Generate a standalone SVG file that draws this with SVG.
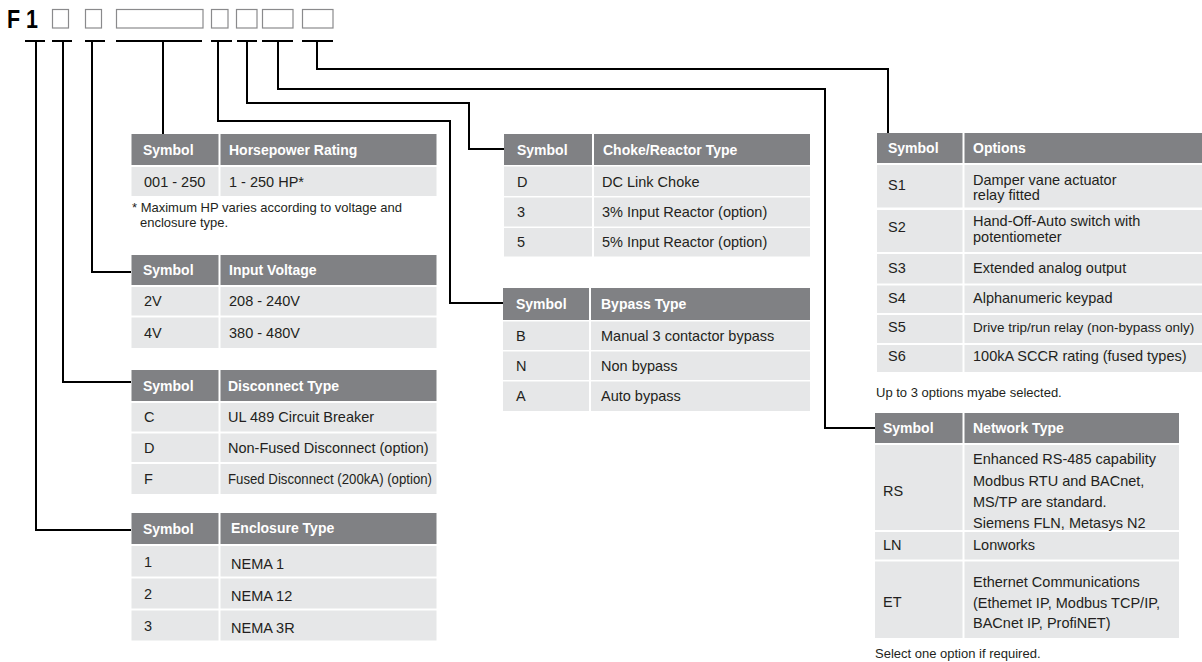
<svg xmlns="http://www.w3.org/2000/svg" width="1202" height="662" viewBox="0 0 1202 662">
<style>
.hd{fill:#808184}
.rw{fill:#e6e7e8}
.bx{fill:#fff;stroke:#8a8a8c;stroke-width:1.2}
.cn{fill:none;stroke:#000;stroke-width:2}
text{font-family:"Liberation Sans",Arial,sans-serif}
.ht{fill:#fff;font-weight:bold;font-size:14px}
.tx{fill:#231f20;font-size:14.5px}
.fn{fill:#231f20;font-size:13px}
.big{fill:#000;font-weight:bold;font-size:25px}
</style>
<rect width="1202" height="662" fill="#fff"/>
<g id="code">
<text class="big" x="7" y="28" textLength="31" lengthAdjust="spacingAndGlyphs">F 1</text>
<rect class="bx" x="52.5" y="9.5" width="16" height="18.5"/>
<rect class="bx" x="85.5" y="9.5" width="16" height="18.5"/>
<rect class="bx" x="116.5" y="9.5" width="86.5" height="18.5"/>
<rect class="bx" x="211.5" y="9.5" width="16.5" height="18.5"/>
<rect class="bx" x="236.5" y="9.5" width="20.5" height="18.5"/>
<rect class="bx" x="262.5" y="9.5" width="30.5" height="18.5"/>
<rect class="bx" x="302.5" y="9.5" width="30.5" height="18.5"/>
</g>
<g id="connectors" class="cn">
<path d="M25 41H45M52 41H72M85 41H105M116 41H202M211 41H232M237 41H257M262 41H293M302 41H333"/>
<path d="M36 41V530H131"/>
<path d="M63 41V382H131"/>
<path d="M92 41V272H131"/>
<path d="M163 41V134"/>
<path d="M218 41V121H450V303H503"/>
<path d="M247 41V103H469V149H504"/>
<path d="M278 41V89H825V428H875"/>
<path d="M317 41V69H888V133"/>
</g>
<g id="horsepower">
<rect class="hd" x="131.5" y="134" width="87" height="31"/><rect class="hd" x="220.5" y="134" width="216" height="31"/>
<rect class="rw" x="131.5" y="167" width="87" height="29"/><rect class="rw" x="220.5" y="167" width="216" height="29"/>
<text class="ht" x="143" y="155">Symbol</text><text class="ht" x="229" y="155">Horsepower Rating</text>
<text class="tx" x="144" y="187">001 - 250</text><text class="tx" x="229" y="187">1 - 250 HP*</text>
<text class="fn" x="132" y="212">* Maximum HP varies according to voltage and</text>
<text class="fn" x="140" y="227">enclosure type.</text>
</g>
<g id="voltage">
<rect class="hd" x="131.5" y="255" width="87" height="30"/><rect class="hd" x="220.5" y="255" width="216" height="30"/>
<rect class="rw" x="131.5" y="287" width="87" height="28.5"/><rect class="rw" x="220.5" y="287" width="216" height="28.5"/>
<rect class="rw" x="131.5" y="317.5" width="87" height="30.5"/><rect class="rw" x="220.5" y="317.5" width="216" height="30.5"/>
<text class="ht" x="143" y="275">Symbol</text><text class="ht" x="229" y="275">Input Voltage</text>
<text class="tx" x="144" y="306">2V</text><text class="tx" x="229" y="306">208 - 240V</text>
<text class="tx" x="144" y="338">4V</text><text class="tx" x="229" y="338">380 - 480V</text>
</g>
<g id="disconnect">
<rect class="hd" x="131.5" y="370" width="87" height="31"/><rect class="hd" x="220.5" y="370" width="216" height="31"/>
<rect class="rw" x="131.5" y="403" width="87" height="28.5"/><rect class="rw" x="220.5" y="403" width="216" height="28.5"/>
<rect class="rw" x="131.5" y="433.5" width="87" height="28.5"/><rect class="rw" x="220.5" y="433.5" width="216" height="28.5"/>
<rect class="rw" x="131.5" y="464" width="87" height="30"/><rect class="rw" x="220.5" y="464" width="216" height="30"/>
<text class="ht" x="143" y="391">Symbol</text><text class="ht" x="228" y="391">Disconnect Type</text>
<text class="tx" x="144" y="422">C</text><text class="tx" x="228" y="422">UL 489 Circuit Breaker</text>
<text class="tx" x="144" y="453">D</text><text class="tx" x="228" y="453">Non-Fused Disconnect (option)</text>
<text class="tx" x="144" y="484">F</text><text class="tx" x="228" y="484" textLength="204" lengthAdjust="spacingAndGlyphs">Fused Disconnect (200kA) (option)</text>
</g>
<g id="enclosure">
<rect class="hd" x="131.5" y="513" width="87" height="31"/><rect class="hd" x="220.5" y="513" width="216" height="31"/>
<rect class="rw" x="131.5" y="546" width="87" height="30.5"/><rect class="rw" x="220.5" y="546" width="216" height="30.5"/>
<rect class="rw" x="131.5" y="578.5" width="87" height="30"/><rect class="rw" x="220.5" y="578.5" width="216" height="30"/>
<rect class="rw" x="131.5" y="610.5" width="87" height="30"/><rect class="rw" x="220.5" y="610.5" width="216" height="30"/>
<text class="ht" x="143" y="534">Symbol</text><text class="ht" x="231" y="533">Enclosure Type</text>
<text class="tx" x="144" y="566.5">1</text><text class="tx" x="231" y="568.5">NEMA 1</text>
<text class="tx" x="144" y="598.5">2</text><text class="tx" x="231" y="600.5">NEMA 12</text>
<text class="tx" x="144" y="630.5">3</text><text class="tx" x="231" y="632.5">NEMA 3R</text>
</g>
<g id="choke">
<rect class="hd" x="504" y="134" width="88" height="31"/><rect class="hd" x="594" y="134" width="216" height="31"/>
<rect class="rw" x="504" y="166.5" width="88" height="29.5"/><rect class="rw" x="594" y="166.5" width="216" height="29.5"/>
<rect class="rw" x="504" y="197.5" width="88" height="29"/><rect class="rw" x="594" y="197.5" width="216" height="29"/>
<rect class="rw" x="504" y="228" width="88" height="28.5"/><rect class="rw" x="594" y="228" width="216" height="28.5"/>
<text class="ht" x="517" y="155">Symbol</text><text class="ht" x="603" y="155">Choke/Reactor Type</text>
<text class="tx" x="517" y="186.5">D</text><text class="tx" x="602" y="186.5">DC Link Choke</text>
<text class="tx" x="517" y="216.5">3</text><text class="tx" x="602" y="216.5">3% Input Reactor (option)</text>
<text class="tx" x="517" y="247">5</text><text class="tx" x="602" y="247">5% Input Reactor (option)</text>
</g>
<g id="bypass">
<rect class="hd" x="503" y="288" width="86" height="32"/><rect class="hd" x="591" y="288" width="219" height="32"/>
<rect class="rw" x="503" y="321.5" width="86" height="28.5"/><rect class="rw" x="591" y="321.5" width="219" height="28.5"/>
<rect class="rw" x="503" y="351.5" width="86" height="28.5"/><rect class="rw" x="591" y="351.5" width="219" height="28.5"/>
<rect class="rw" x="503" y="381.5" width="86" height="29.5"/><rect class="rw" x="591" y="381.5" width="219" height="29.5"/>
<text class="ht" x="516" y="309">Symbol</text><text class="ht" x="601" y="309">Bypass Type</text>
<text class="tx" x="516" y="341">B</text><text class="tx" x="601" y="341">Manual 3 contactor bypass</text>
<text class="tx" x="516" y="371">N</text><text class="tx" x="601" y="371">Non bypass</text>
<text class="tx" x="516" y="401">A</text><text class="tx" x="601" y="401">Auto bypass</text>
</g>
<g id="options">
<rect class="hd" x="877" y="133" width="85.5" height="30"/><rect class="hd" x="964.5" y="133" width="237.5" height="30"/>
<rect class="rw" x="877" y="165" width="85.5" height="42.5"/><rect class="rw" x="964.5" y="165" width="237.5" height="42.5"/>
<rect class="rw" x="877" y="210" width="85.5" height="42"/><rect class="rw" x="964.5" y="210" width="237.5" height="42"/>
<rect class="rw" x="877" y="254" width="85.5" height="29.5"/><rect class="rw" x="964.5" y="254" width="237.5" height="29.5"/>
<rect class="rw" x="877" y="285.5" width="85.5" height="27.5"/><rect class="rw" x="964.5" y="285.5" width="237.5" height="27.5"/>
<rect class="rw" x="877" y="315" width="85.5" height="28"/><rect class="rw" x="964.5" y="315" width="237.5" height="28"/>
<rect class="rw" x="877" y="345" width="85.5" height="27"/><rect class="rw" x="964.5" y="345" width="237.5" height="27"/>
<text class="ht" x="888" y="153">Symbol</text><text class="ht" x="973" y="153">Options</text>
<text class="tx" x="888" y="190">S1</text><text class="tx" x="973" y="184.5">Damper vane actuator</text><text class="tx" x="973" y="200">relay fitted</text>
<text class="tx" x="888" y="232">S2</text><text class="tx" x="973" y="226">Hand-Off-Auto switch with</text><text class="tx" x="973" y="242">potentiometer</text>
<text class="tx" x="888" y="272.5">S3</text><text class="tx" x="973" y="272.5">Extended analog output</text>
<text class="tx" x="888" y="302.5">S4</text><text class="tx" x="973" y="302.5">Alphanumeric keypad</text>
<text class="tx" x="888" y="332">S5</text><text class="tx" x="973" y="332" style="font-size:13.5px">Drive trip/run relay (non-bypass only)</text>
<text class="tx" x="888" y="361">S6</text><text class="tx" x="973" y="361">100kA SCCR rating (fused types)</text>
<text class="fn" x="876" y="397">Up to 3 options myabe selected.</text>
</g>
<g id="network">
<rect class="hd" x="875" y="413" width="87.5" height="30"/><rect class="hd" x="964.5" y="413" width="214.5" height="30"/>
<rect class="rw" x="875" y="445" width="87.5" height="85"/><rect class="rw" x="964.5" y="445" width="214.5" height="85"/>
<rect class="rw" x="875" y="532" width="87.5" height="27.5"/><rect class="rw" x="964.5" y="532" width="214.5" height="27.5"/>
<rect class="rw" x="875" y="561.5" width="87.5" height="76.5"/><rect class="rw" x="964.5" y="561.5" width="214.5" height="76.5"/>
<text class="ht" x="883" y="433">Symbol</text><text class="ht" x="973" y="433">Network Type</text>
<text class="tx" x="883" y="496">RS</text>
<text class="tx" x="973" y="464">Enhanced RS-485 capability</text>
<text class="tx" x="973" y="485.5">Modbus RTU and BACnet,</text>
<text class="tx" x="973" y="507">MS/TP are standard.</text>
<text class="tx" x="973" y="527.5">Siemens FLN, Metasys N2</text>
<text class="tx" x="883" y="550">LN</text><text class="tx" x="973" y="550">Lonworks</text>
<text class="tx" x="883" y="607">ET</text>
<text class="tx" x="973" y="587">Ethernet Communications</text>
<text class="tx" x="973" y="607.5">(Ethemet IP, Modbus TCP/IP,</text>
<text class="tx" x="973" y="628">BACnet IP, ProfiNET)</text>
<text class="fn" x="875" y="658">Select one option if required.</text>
</g>
</svg>
